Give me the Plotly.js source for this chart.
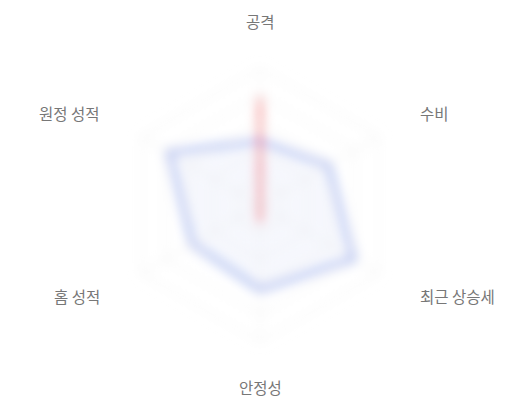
<!DOCTYPE html>
<html>
<head>
<meta charset="utf-8">
<script src="https://cdn.plot.ly/plotly-3.0.1.min.js"></script>
<style>
  html, body { margin: 0; padding: 0; background: #fff; }
  #chart { width: 520px; height: 400px; }
</style>
</head>
<body>
<svg width="0" height="0" style="position:absolute">
  <filter id="soft" x="-20%" y="-20%" width="140%" height="140%">
    <feGaussianBlur stdDeviation="6"/>
  </filter>
</svg>
<div id="chart"></div>
<script>
const categories = ['공격', '수비', '최근 상승세', '안정성', '홈 성적', '원정 성적'];
const teamA = [47, 58, 79, 62, 57, 77];
const teamB = [79, 0, 0, 13, 0, 0];

// close the polygons
const closed = arr => arr.concat(arr[0]);
const theta = closed(categories);

const traces = [
    {
        type: 'scatterpolar',
        r: closed(teamA),
        theta: theta,
        mode: 'lines',
        fill: 'toself',
        fillcolor: 'rgba(110,140,230,0.07)',
        line: { color: 'rgba(110,140,230,0.6)', width: 5 },
        hoverinfo: 'skip'
    },
    {
        type: 'scatterpolar',
        r: closed(teamB),
        theta: theta,
        mode: 'lines',
        fill: 'toself',
        fillcolor: 'rgba(240,90,90,0.1)',
        line: { color: 'rgba(240,90,90,0.65)', width: 5 },
        hoverinfo: 'skip'
    }
];

// labels sit outside the blurred grid
const cx = 260, cy = 204, labelR = 183;
const annotations = categories.map((c, i) => {
    const a = (90 - i * 60) * Math.PI / 180;
    const px = cx + labelR * Math.cos(a);
    const py = cy - labelR * Math.sin(a);
    const dx = Math.cos(a);
    return {
        text: c,
        x: px / 520,
        y: 1 - py / 400,
        xref: 'paper',
        yref: 'paper',
        xanchor: Math.abs(dx) < 0.01 ? 'center' : (dx > 0 ? 'left' : 'right'),
        yanchor: 'middle',
        showarrow: false,
        font: { family: '"Noto Sans CJK KR", sans-serif', size: 15.5, color: '#777' }
    };
});

const layout = {
    width: 520,
    height: 400,
    margin: { l: 0, r: 0, t: 0, b: 0 },
    paper_bgcolor: '#fff',
    showlegend: false,
    polar: {
        domain: { x: [123 / 520, 397 / 520], y: [58 / 400, 332 / 400] },
        bgcolor: 'rgba(0,0,0,0)',
        gridshape: 'linear',
        radialaxis: {
            range: [0, 100],
            dtick: 20,
            showticklabels: false,
            ticks: '',
            showline: false,
            gridcolor: '#f1f1f1',
            gridwidth: 1.5
        },
        angularaxis: {
            rotation: 90,
            direction: 'clockwise',
            showticklabels: false,
            ticks: '',
            showline: true,
            linecolor: '#f1f1f1',
            linewidth: 1.5,
            gridcolor: '#f1f1f1',
            gridwidth: 1.5
        }
    },
    annotations: annotations
};

Plotly.newPlot('chart', traces, layout, { displayModeBar: false, staticPlot: true }).then(() => {
    const layer = document.querySelector('#chart .polarlayer');
    if (layer) layer.setAttribute('filter', 'url(#soft)');
});
</script>
</body>
</html>
